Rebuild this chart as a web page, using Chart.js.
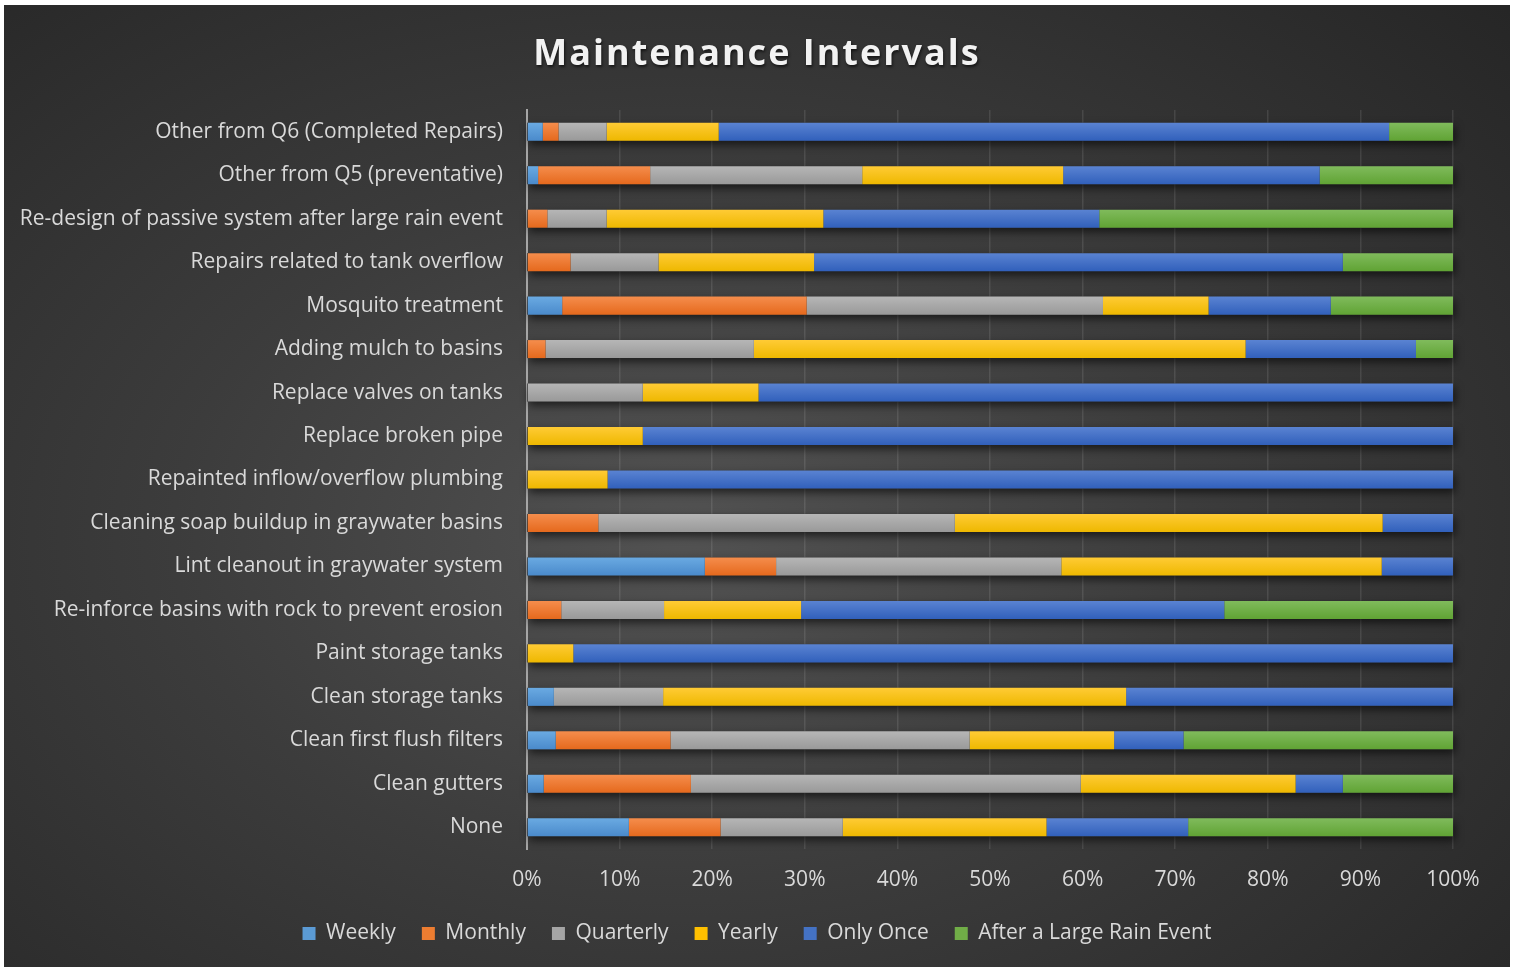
<!DOCTYPE html>
<html>
<head>
<meta charset="utf-8">
<script src="https://cdn.jsdelivr.net/npm/chart.js@4"></script>
<style>
  html, body { margin: 0; padding: 0; background: #ffffff; }
  #wrap {
    position: absolute; left: 4px; top: 5px; width: 1506px; height: 962px;
    background: radial-gradient(ellipse 75% 80% at 45% 55%, #525252 0%, #3c3c3c 45%, #262626 100%);
  }
</style>
</head>
<body>
<div id="wrap"><canvas id="chart" width="1506" height="962"></canvas></div>
<script>
const categories = [
  "Other from Q6 (Completed Repairs)",
  "Other from Q5 (preventative)",
  "Re-design of passive system after large rain event",
  "Repairs related to tank overflow",
  "Mosquito treatment",
  "Adding mulch to basins",
  "Replace valves on tanks",
  "Replace broken pipe",
  "Repainted inflow/overflow plumbing",
  "Cleaning soap buildup in graywater basins",
  "Lint cleanout in graywater system",
  "Re-inforce basins with rock to prevent erosion",
  "Paint storage tanks",
  "Clean storage tanks",
  "Clean first flush filters",
  "Clean gutters",
  "None"
];

// percent of responses, top row first
const weekly    = [1.7, 1.2, 0, 0, 3.8, 0, 0, 0, 0, 0, 19.2, 0, 0, 2.9, 3.1, 1.8, 11.0];
const monthly   = [1.7, 12.1, 2.2, 4.7, 26.4, 2.0, 0, 0, 0, 7.7, 7.7, 3.7, 0, 0, 12.4, 15.9, 9.9];
const quarterly = [5.2, 22.9, 6.4, 9.5, 32.0, 22.5, 12.5, 0, 0, 38.5, 30.8, 11.1, 0, 11.8, 32.3, 42.1, 13.2];
const yearly    = [12.1, 21.7, 23.4, 16.8, 11.4, 53.1, 12.5, 12.5, 8.7, 46.2, 34.6, 14.8, 5.0, 50.0, 15.6, 23.2, 22.0];
const onlyOnce  = [72.4, 27.7, 29.8, 57.1, 13.2, 18.4, 75.0, 87.5, 91.3, 7.7, 7.7, 45.7, 95.0, 35.3, 7.5, 5.1, 15.3];
const afterRain = [6.9, 14.4, 38.2, 11.9, 13.2, 4.0, 0, 0, 0, 0, 0, 24.7, 0, 0, 29.1, 11.9, 28.6];

const seriesNames = ["Weekly", "Monthly", "Quarterly", "Yearly", "Only Once", "After a Large Rain Event"];
const xTicks = [0, 10, 20, 30, 40, 50, 60, 70, 80, 90, 100];

const baseColors = ["#5B9BD5", "#ED7D31", "#A5A5A5", "#FFC000", "#4472C4", "#70AD47"];
const topColors  = ["#6aaae2", "#f58d4c", "#b6b6b6", "#ffcb35", "#5a83d2", "#80bb5c"];
const botColors  = ["#4a8acb", "#e5691d", "#999999", "#eeb800", "#3160bb", "#60a334"];

const BAR_PCT = 0.415;
const textColor = "#d9d9d9";
const fontFamily = "'Open Sans', sans-serif";

// vertical gradient per bar, built from the y scale
function barFill(i) {
  return function (ctx) {
    const chart = ctx.chart;
    const y = chart.scales.y;
    if (!chart.chartArea || !y || ctx.dataIndex === undefined) return baseColors[i];
    const c = y.getPixelForValue(ctx.dataIndex);
    const band = Math.abs(y.getPixelForValue(1) - y.getPixelForValue(0));
    const h = band * BAR_PCT;
    const g = chart.ctx.createLinearGradient(0, c - h / 2, 0, c + h / 2);
    g.addColorStop(0, topColors[i]);
    g.addColorStop(1, botColors[i]);
    return g;
  };
}

const rows = [weekly, monthly, quarterly, yearly, onlyOnce, afterRain];
const datasets = rows.map((data, i) => ({
  label: seriesNames[i],
  data: data,
  backgroundColor: barFill(i),
  borderWidth: 0,
  barPercentage: BAR_PCT,
  categoryPercentage: 1
}));

// soft drop shadow under each row of bars
const barShadow = {
  id: "barShadow",
  beforeDatasetsDraw(chart) {
    const { ctx, scales } = chart;
    const x0 = scales.x.getPixelForValue(0);
    const x1 = scales.x.getPixelForValue(100);
    const band = Math.abs(scales.y.getPixelForValue(1) - scales.y.getPixelForValue(0));
    const h = band * BAR_PCT;
    ctx.save();
    ctx.shadowColor = "rgba(0,0,0,0.6)";
    ctx.shadowBlur = 8;
    ctx.shadowOffsetX = 2;
    ctx.shadowOffsetY = 4;
    ctx.fillStyle = "#333";
    categories.forEach((c, i) => {
      const yc = scales.y.getPixelForValue(i);
      ctx.fillRect(x0, yc - h / 2, x1 - x0, h);
    });
    ctx.restore();
  }
};

// spaced title with shadow
const titleText = {
  id: "titleText",
  afterDraw(chart) {
    const ctx = chart.ctx;
    ctx.save();
    ctx.font = "bold 36px " + fontFamily;
    ctx.letterSpacing = "2px";
    ctx.textAlign = "center";
    ctx.textBaseline = "middle";
    ctx.shadowColor = "rgba(0,0,0,0.6)";
    ctx.shadowBlur = 3;
    ctx.shadowOffsetX = 1;
    ctx.shadowOffsetY = 2;
    ctx.fillStyle = "#f2f2f2";
    ctx.fillText("Maintenance Intervals", 753, 50);
    ctx.restore();
  }
};

new Chart(document.getElementById("chart"), {
  type: "bar",
  data: { labels: categories, datasets: datasets },
  options: {
    indexAxis: "y",
    responsive: false,
    animation: false,
    layout: { padding: { top: 105, right: 0, bottom: 13, left: 0 } },
    scales: {
      x: {
        stacked: true,
        min: 0,
        max: 100,
        afterBuildTicks(scale) { scale.ticks = xTicks.map(v => ({ value: v })); },
        afterFit(scale) { scale.height = 48; scale.paddingRight = 57; },
        ticks: {
          color: textColor,
          font: { family: fontFamily, size: 21 },
          padding: 18,
          callback: v => v + "%"
        },
        grid: { color: "rgba(255,255,255,0.1)", lineWidth: 1.5, drawTicks: false },
        border: { display: false }
      },
      y: {
        stacked: true,
        afterFit(scale) { scale.width = 523; },
        ticks: {
          color: textColor,
          font: { family: fontFamily, size: 21 },
          padding: 24
        },
        grid: { display: false, drawTicks: false },
        border: { display: true, color: "#a6a6a6", width: 2 }
      }
    },
    plugins: {
      legend: {
        position: "bottom",
        labels: {
          color: textColor,
          font: { family: fontFamily, size: 21 },
          boxWidth: 13,
          boxHeight: 13,
          padding: 26,
          generateLabels(chart) {
            const items = Chart.defaults.plugins.legend.labels.generateLabels(chart);
            items.forEach((it, i) => { it.fillStyle = baseColors[i]; it.strokeStyle = baseColors[i]; it.lineWidth = 0; });
            return items;
          }
        }
      },
      title: { display: false },
      tooltip: { enabled: false }
    }
  },
  plugins: [barShadow, titleText]
});
</script>
</body>
</html>
